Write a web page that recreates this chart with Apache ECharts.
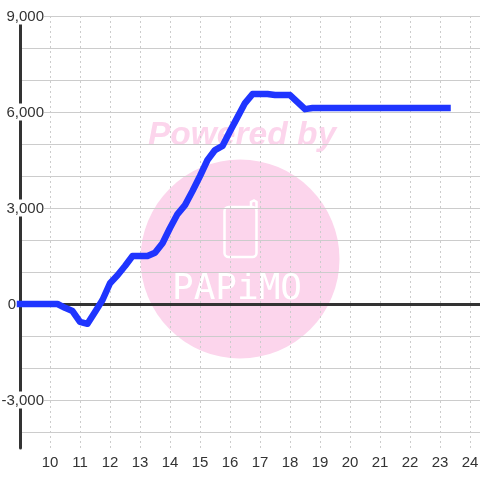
<!DOCTYPE html>
<html>
<head>
<meta charset="utf-8">
<style>
  html, body { margin: 0; padding: 0; background: #fff; }
  #chart { width: 480px; height: 480px; }
</style>
<script src="https://cdn.jsdelivr.net/npm/echarts@6/dist/echarts.min.js"></script>
</head>
<body>
<div id="chart"></div>
<script>
const hours = [10, 11, 12, 13, 14, 15, 16, 17, 18, 19, 20, 21, 22, 23, 24]
const yGrid = [-4000, -3000, -2000, -1000, 0, 1000, 2000, 3000, 4000, 5000, 6000, 7000, 8000, 9000]
const yLabels = [-3000, 0, 3000, 6000, 9000]

const times = [
  9, 9.25, 9.5, 9.75, 10, 10.25, 10.5, 10.75, 11, 11.25, 11.5, 11.75,
  12, 12.25, 12.5, 12.75, 13, 13.25, 13.5, 13.75, 14, 14.25, 14.5, 14.75,
  15, 15.25, 15.5, 15.75, 16, 16.25, 16.5, 16.75, 17, 17.25, 17.5, 17.75,
  18, 18.25, 18.5, 18.75, 19, 20, 21, 22, 23, 23.25
]
const values = [
  0, 0, 0, 0, 0, 0, -120, -220, -560, -620, -250, 125,
  650, 900, 1190, 1500, 1500, 1500, 1600, 1900, 2375, 2810, 3090, 3530,
  4000, 4500, 4810, 4940, 5400, 5840, 6280, 6560, 6560, 6560, 6530, 6530,
  6530, 6310, 6090, 6125, 6125, 6125, 6125, 6125, 6125, 6125
]

const chart = echarts.init(document.getElementById('chart'))
const xMin = 9
const xMax = 24.333

chart.setOption({
  animation: false,
  backgroundColor: '#fff',
  textStyle: { fontFamily: '"Liberation Sans", Arial, sans-serif' },
  grid: { left: 20, right: 0, top: 16, bottom: 32, containLabel: false, outerBoundsMode: 'none' },
  // 水印
  graphic: [
    {
      type: 'circle', silent: true, z: -1,
      shape: { cx: 240, cy: 259, r: 99.5 },
      style: { fill: '#fcd5ec' }
    },
    {
      type: 'text', silent: true, z: -1, left: 148, top: 119,
      style: {
        text: 'Powered by', fill: '#fcd5ec',
        font: 'italic bold 33.5px "Liberation Sans", Arial, sans-serif'
      }
    },
    {
      type: 'rect', silent: true, z: -1,
      shape: { x: 224.5, y: 207, width: 32, height: 50, r: 4 },
      style: { fill: 'none', stroke: '#fff', lineWidth: 2.5 }
    },
    {
      type: 'polyline', silent: true, z: -1,
      shape: { points: [[251, 207], [251, 202], [254, 200.500], [256.500, 202], [256.500, 210]] },
      style: { fill: 'none', stroke: '#fff', lineWidth: 2.5 }
    },
    {
      type: 'text', silent: true, z: -1, left: 172, top: 272,
      style: {
        text: 'PAPiMO', fill: '#fff', letterSpacing: 6,
        font: '300 36px "DejaVu Sans Mono", monospace'
      }
    }
  ],
  xAxis: [
    {
      type: 'value', min: xMin, max: xMax, position: 'bottom',
      axisLine: { show: false, onZero: false },
      axisTick: { show: false, customValues: hours },
      axisLabel: { customValues: hours, color: '#333', fontSize: 15, margin: 7, hideOverlap: false },
      splitLine: { show: true, lineStyle: { color: '#ccc', width: 1, type: [2, 3] } }
    },
    {
      type: 'value', min: xMin, max: xMax, position: 'bottom',
      axisLine: { show: true, onZero: true, lineStyle: { color: '#333', width: 3 } },
      axisTick: { show: false },
      axisLabel: { show: false },
      splitLine: { show: false }
    }
  ],
  yAxis: {
    type: 'value', min: -4500, max: 9000, position: 'left',
    axisLine: { show: true, onZero: false, lineStyle: { color: '#333', width: 3 } },
    axisTick: { show: false, customValues: yGrid },
    axisLabel: {
      customValues: yLabels,
      margin: -24,
      hideOverlap: false,
      formatter: (v) => v === 0 ? '{zero|0}' : '{num|' + v.toLocaleString('en-US') + '}',
      rich: {
        num: { color: '#333', fontSize: 15, backgroundColor: '#fff', lineHeight: 15, padding: [2, 0, 0, 0] },
        zero: { color: '#333', fontSize: 15, padding: [2, 28, 0, 0], lineHeight: 15 }
      }
    },
    splitLine: { show: true, lineStyle: { color: '#ccc', width: 1 } }
  },
  series: [
    {
      type: 'line',
      xAxisIndex: 0,
      data: times.map((t, i) => [t, values[i]]),
      symbol: 'none',
      clip: false,
      z: 5,
      lineStyle: { color: '#1f35ff', width: 6.5, cap: 'square', join: 'round' }
    }
  ]
})
</script>
</body>
</html>
